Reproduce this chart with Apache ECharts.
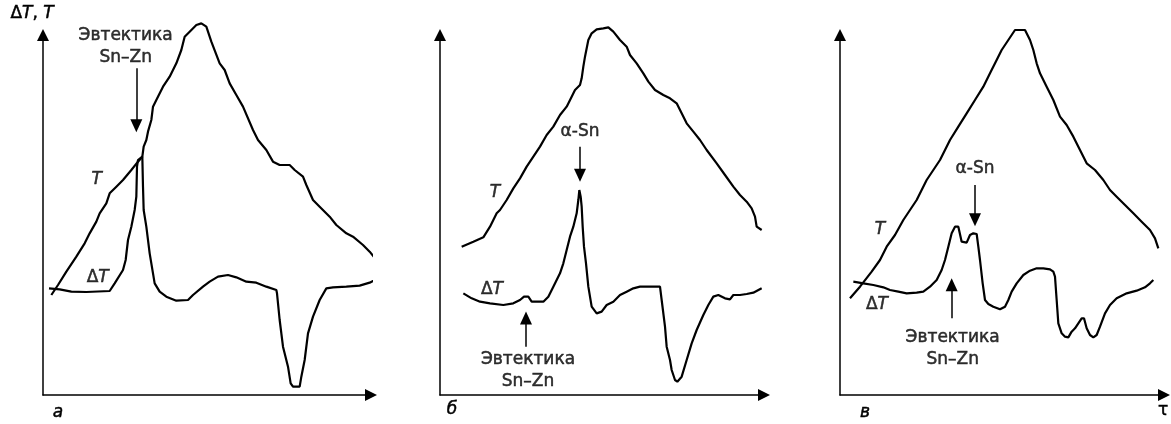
<!DOCTYPE html>
<html><head><meta charset="utf-8">
<script src="https://cdn.jsdelivr.net/npm/echarts@6/dist/echarts.min.js"></script>
<style>html,body{margin:0;padding:0;background:#fff}#c{width:1171px;height:424px}</style>
</head><body><div id="c"></div>
<script>
// Values in arbitrary units (time along x, signal along y)
const T_a = [[25,300],[45,330],[70,370],[100,415],[125,455],[140,485],[160,520],[170,545],[190,575],[200,605],[220,625],[240,645],[265,675],[285,700],[298,715],[302,745],[310,765],[315,790],[325,825],[330,865],[340,885],[360,925],[380,955],[400,995],[415,1035],[425,1075],[440,1090],[460,1110],[475,1115],[490,1105],[505,1060],[530,995],[545,975],[560,935],[580,900],[600,865],[630,795],[645,765],[670,735],[690,700],[710,690],[740,690],[755,675],[780,655],[790,630],[810,585],[830,565],[860,535],[880,510],[910,485],[930,475],[960,450],[980,430],[1000,405],[1015,380]];
const dT_a = [[18,320],[50,317],[85,310],[130,309],[200,312],[215,335],[240,375],[248,405],[255,465],[265,505],[275,555],[280,595],[282,685],[285,705],[298,715],[300,625],[302,555],[310,505],[320,425],[330,365],[335,335],[350,310],[370,295],[400,283],[435,285],[450,300],[480,325],[500,340],[525,355],[555,360],[580,353],[610,340],[640,337],[670,325],[700,315],[702,305],[710,225],[720,145],[735,85],[743,35],[750,25],[770,25],[775,55],[785,105],[795,185],[810,235],[830,285],[850,320],[870,323],[910,325],[950,328],[980,337],[1005,350]];
const T_b = [[65,445],[100,460],[130,473],[150,505],[170,545],[180,555],[200,585],[220,620],[240,650],[260,685],[280,715],[300,745],[320,780],[340,805],[360,840],[380,865],[395,895],[405,915],[420,930],[425,950],[430,985],[435,1015],[445,1065],[455,1085],[470,1097],[490,1100],[505,1103],[520,1090],[540,1065],[560,1045],[570,1020],[590,995],[610,965],[625,940],[645,915],[670,900],[690,890],[710,875],[725,845],[740,815],[760,790],[780,765],[800,735],[830,695],[855,660],[880,625],[900,600],[920,580],[935,560],[945,535],[950,505],[965,495]];
const dT_b = [[70,305],[95,290],[120,280],[150,275],[190,270],[220,275],[240,285],[252,295],[258,300],[265,295],[275,280],[290,280],[310,280],[325,295],[340,325],[360,365],[370,395],[380,435],[390,475],[400,505],[410,545],[415,585],[418,615],[422,595],[425,565],[428,505],[432,445],[438,395],[445,325],[455,265],[470,245],[485,250],[500,270],[520,280],[540,300],[560,310],[580,320],[600,325],[630,325],[660,325],[665,285],[675,205],[680,145],[690,105],[695,75],[705,45],[712,40],[725,55],[740,105],[755,155],[770,195],[790,240],[805,270],[820,295],[835,300],[855,290],[870,287],[880,300],[900,300],[920,303],[940,307],[965,320]];
const T_c = [[30,290],[60,325],[95,370],[120,405],[140,445],[165,480],[190,525],[210,555],[230,585],[245,615],[260,645],[280,675],[300,705],[315,735],[330,765],[355,805],[380,845],[405,885],[430,925],[450,965],[470,1005],[485,1035],[505,1065],[525,1095],[555,1095],[570,1065],[580,1035],[590,995],[600,965],[620,925],[640,885],[660,835],[680,810],[700,775],[720,735],[740,695],[765,675],[790,645],[810,615],[830,595],[855,570],[880,545],[905,520],[930,495],[945,470],[955,440]];
const dT_c = [[40,340],[70,335],[100,330],[130,323],[150,315],[175,310],[200,305],[230,307],[250,310],[270,325],[290,345],[305,375],[315,405],[325,445],[335,485],[345,505],[355,505],[365,460],[380,457],[390,480],[400,485],[410,483],[415,445],[420,405],[428,335],[435,285],[445,273],[460,265],[480,257],[495,265],[505,285],[515,310],[530,335],[550,360],[570,373],[590,380],[610,380],[630,377],[640,370],[645,355],[650,285],[655,215],[665,185],[675,175],[685,173],[695,190],[705,200],[715,215],[725,230],[732,230],[740,200],[750,180],[760,173],[770,180],[780,205],[795,245],[810,270],[830,290],[860,305],[890,313],[915,323],[930,335],[940,345]];

// Annotation arrows: [x, yStart, yEnd]
const arrows_a = [[280,980,808]];
const arrows_b = [[420,745,659],[258,145,231]];
const arrows_c = [[405,630,526],[335,230,331]];

// Text annotations: [x, y, text]
const labels_a = [[248,1044,'{n|Эвтектика}\n{n|Sn–Zn}'],[161,645,'{i|T}'],[164,351,'{n|Δ}{i|T}']];
const labels_b = [[420,789,'{n|α-Sn}'],[264,72,'{n|Эвтектика}\n{n|Sn–Zn}'],[165,606,'{i|T}'],[156,315,'{n|Δ}{i|T}']];
const labels_c = [[405,678,'{n|α-Sn}'],[338,138,'{n|Эвтектика}\n{n|Sn–Zn}'],[120,495,'{i|T}'],[111,270,'{n|Δ}{i|T}']];

const panelLetters = ['а','б','в'];
const xMax = [984, 972, 972];
const yMax = 1080;

const FONT = 'DejaVu Sans';
const FS = 17;
const rich = {
  n: {fontFamily: FONT, fontSize: FS, color: '#000', lineHeight: 22, textBorderColor: '#000', textBorderWidth: 0.5},
  i: {fontFamily: FONT, fontSize: FS, color: '#000', fontStyle: 'italic', lineHeight: 22, textBorderColor: '#000', textBorderWidth: 0.5}
};

const grids = [
  {left: 43, top: 35, width: 328, height: 360},
  {left: 440, top: 35, width: 324, height: 360},
  {left: 840, top: 35, width: 324, height: 360}
];

const axisLine = {show: true, symbol: ['none', 'triangle'], symbolSize: [12, 12], lineStyle: {color: '#000', width: 1.5}};
const xAxes = grids.map((g, i) => ({type: 'value', gridIndex: i, min: 0, max: xMax[i], axisLine, axisTick: {show: false}, axisLabel: {show: false}, splitLine: {show: false}}));
const yAxes = grids.map((g, i) => ({type: 'value', gridIndex: i, min: 0, max: yMax, axisLine, axisTick: {show: false}, axisLabel: {show: false}, splitLine: {show: false}}));

const curves = [[T_a, dT_a], [T_b, dT_b], [T_c, dT_c]];
const arrows = [arrows_a, arrows_b, arrows_c];
const labels = [labels_a, labels_b, labels_c];

const series = [];
curves.forEach((pair, i) => {
  pair.forEach((d, k) => {
    const s = {
      type: 'line', xAxisIndex: i, yAxisIndex: i, data: d, showSymbol: false, symbol: 'none',
      clip: false, silent: true, lineStyle: {color: '#000', width: 2.2}, z: 3
    };
    if (k === 0) {
      s.markLine = {
        silent: true, symbol: ['none', 'triangle'], symbolSize: [12, 13],
        lineStyle: {color: '#000', width: 1.5, type: 'solid'}, label: {show: false},
        data: arrows[i].map(a => [{coord: [a[0], a[1]]}, {coord: [a[0], a[2]]}])
      };
    }
    series.push(s);
  });
  series.push({
    type: 'scatter', xAxisIndex: i, yAxisIndex: i, symbolSize: 1, clip: false, silent: true,
    itemStyle: {color: 'rgba(0,0,0,0)'},
    label: {show: true, position: 'inside', formatter: p => p.data[2], rich, color: '#000'},
    data: labels[i]
  });
});

// axis name of the first panel, as a label on the y axis
yAxes[0].name = '{n|Δ}{i|T}{n|, }{i|T}';
yAxes[0].nameLocation = 'end';
yAxes[0].nameGap = 10;
yAxes[0].nameTextStyle = {rich, align: 'center', padding: [0, 22, 0, 0]};

const letterStyle = (t, italic) => ({text: t, x: 0, y: 0, align: 'center', verticalAlign: 'middle',
  font: (italic ? 'italic ' : '') + FS + 'px "' + FONT + '"', fill: '#000', stroke: '#000', lineWidth: 0.5});

const chart = echarts.init(document.getElementById('c'), null, {renderer: 'canvas'});
chart.setOption({
  animation: false,
  backgroundColor: '#fff',
  grid: grids,
  xAxis: xAxes,
  yAxis: yAxes,
  series,
  graphic: [
    {type: 'text', x: 58, y: 413, style: letterStyle(panelLetters[0], true)},
    {type: 'text', x: 452, y: 410, style: letterStyle(panelLetters[1], true)},
    {type: 'text', x: 865, y: 413, style: letterStyle(panelLetters[2], true)},
    {type: 'text', x: 1163, y: 411, style: letterStyle('τ', false)}
  ]
});
</script></body></html>
